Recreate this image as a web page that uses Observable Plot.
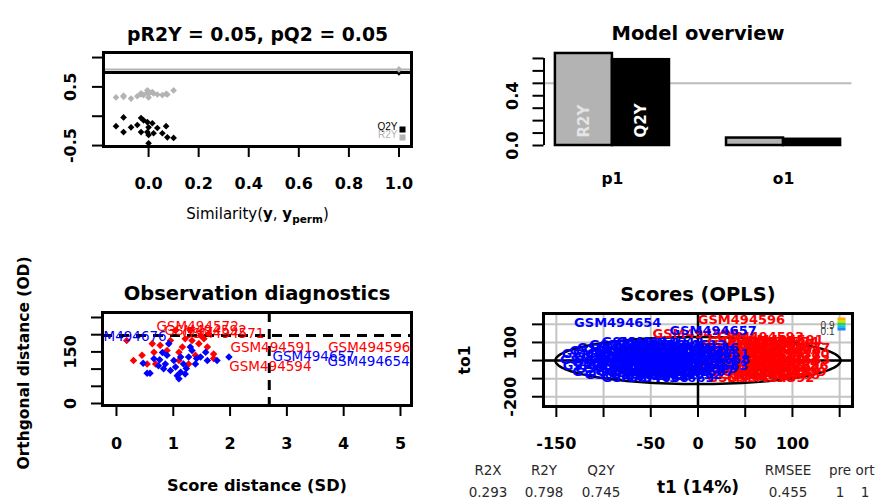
<!DOCTYPE html>
<html><head><meta charset="utf-8">
<script src="https://cdn.jsdelivr.net/npm/d3@7"></script>
<script src="https://cdn.jsdelivr.net/npm/@observablehq/plot@0.6"></script>
<style>
body{margin:0;background:#fff;}
#chart{position:relative;width:876px;height:500px;background:#fff;overflow:hidden;font-family:"DejaVu Sans";}
.mtext{position:absolute;font-family:"DejaVu Sans";font-size:13.5px;color:#2a2a2a;transform:translate(-50%,-50%);white-space:nowrap;line-height:1;}
</style></head><body><div id="chart"></div>
<script>
const FONT = "DejaVu Sans";
const GREY = "#b3b3b3";
const RED = "#ff0000", BLUE = "#0000ff";

// ---------- Panel 1: permutation test ----------
const pR2Y = 0.05, pQ2 = 0.05;
const modelR2Y = 0.798, modelQ2Y = 0.745;
const permSim = [-0.13,-0.10,-0.10,-0.07,-0.045,-0.03,-0.03,-0.02,-0.005,-0.005,0,0,0,0.015,0.02,0.035,0.055,0.07,0.075,0.10];
const permR2Y = [0.32,0.33,0.35,0.30,0.34,0.39,0.37,0.36,0.44,0.40,0.32,0.42,0.38,0.41,0.39,0.37,0.36,0.38,0.37,0.44];
const permQ2Y = [-0.17,-0.02,-0.27,-0.19,-0.15,-0.03,-0.27,-0.07,-0.10,-0.27,-0.19,-0.32,-0.46,-0.12,-0.29,-0.20,-0.29,-0.17,-0.36,-0.37];
const simTicks = [0,0.2,0.4,0.6,0.8,1.0];
const permYTicks = [-0.5,0,0.5,1.0];
const permYLabels = ["-0.5","","0.5",""];
const permLegend = [{label:"Q2Y", color:"black"},{label:"R2Y", color:GREY}];

// ---------- Panel 2: model overview ----------
const components = ["p1","o1"];
const overviewR2Y = [0.74, 0.06];
const overviewQ2Y = [0.69, 0.05];
const overviewTicks = [0,0.1,0.2,0.3,0.4,0.5,0.6,0.7];
const overviewLabels = ["0.0","","","","0.4","","",""];
const overviewLine = 0.5;

// ---------- Panel 3: observation diagnostics ----------
const diagRedSD = [0.30,0.45,0.63,0.66,0.69,0.89,0.95,1.10,1.16,1.21,1.33,1.39,1.45,1.48,1.54,1.62,1.60,1.71,1.10,0.18,0.54,1.71,1.27,0.77,1.30,1.04];
const diagRedOD = [125,140,174,149,115,154,183,149,164,188,183,140,174,198,188,203,164,144,125,183,115,131,115,169,212,212];
const diagBlueSD = [0.47,0.59,0.76,0.74,0.86,0.83,0.92,0.95,1.01,1.04,1.10,1.13,1.18,1.21,1.27,1.30,1.33,1.39,1.48,1.57,1.60,1.77,1.98,0.89,0.66,1.13,0.54,1.07,1.23,1.41,0.81];
const diagBlueOD = [117,88,127,110,115,101,174,96,125,106,72,91,115,86,135,164,154,115,135,149,125,125,135,140,130,135,88,81,102,131,148];
const diagLabels = [
  ["GSM494676","blue",0.16,195],["GSM494572","red",1.43,224],["GSM494592","red",1.57,212],
  ["GSM494571","red",1.88,203],["GSM494591","red",2.73,163],["GSM494596","red",4.45,163],
  ["GSM494594","red",2.71,108],["GSM494657","blue",3.47,137],["GSM494654","blue",4.44,122]
];
const sdLimit = 2.69, odLimit = 198;
const sdTicks = [0,1,2,3,4,5];
const odTicks = [0,50,100,150,200,250];
const odLabels = ["0","","","150","",""];

// ---------- Panel 4: scores (OPLS) ----------
const scoreRed = [
  ["GSM494573",56,105],["GSM494574",82,105],["GSM494575",45,72],["GSM494576",72,72],["GSM494577",94,72],
  ["GSM494578",43,39],["GSM494579",66,39],["GSM494580",93,39],["GSM494581",45,6],["GSM494582",68,6],
  ["GSM494583",94,6],["GSM494584",43,-28],["GSM494585",66,-28],["GSM494586",92,-28],["GSM494587",47,-61],
  ["GSM494588",72,-61],["GSM494589",90,-61],["GSM494590",56,-94],["GSM494592",77,-94],["GSM494593",66,133],
  ["GSM494597",50,88],["GSM494598",77,88],["GSM494599",58,55],["GSM494600",84,55],["GSM494601",56,22],
  ["GSM494602",82,22],["GSM494603",56,-11],["GSM494604",82,-11],["GSM494605",58,-44],["GSM494606",83,-44],
  ["GSM494607",62,-77],["GSM494608",83,-77]
];
const scoreBlue = [
  ["GSM494641",-56,105],["GSM494642",-40,105],["GSM494643",-82,72],["GSM494644",-56,72],["GSM494645",-29,72],
  ["GSM494646",-3,72],["GSM494647",-98,39],["GSM494648",-72,39],["GSM494649",-45,39],["GSM494650",-19,39],
  ["GSM494651",8,39],["GSM494652",-100,6],["GSM494653",-74,6],["GSM494655",-47,6],["GSM494656",-21,6],
  ["GSM494658",9,6],["GSM494659",-97,-28],["GSM494660",-70,-28],["GSM494661",-44,-28],["GSM494662",-17,-28],
  ["GSM494663",7,-28],["GSM494664",-87,-61],["GSM494665",-61,-61],["GSM494666",-34,-61],["GSM494667",-8,-61],
  ["GSM494668",-56,-94],["GSM494669",-29,-94],
  ["GSM494611",-69,88],["GSM494612",-43,88],["GSM494613",-16,88],
  ["GSM494614",-90,55],["GSM494615",-64,55],["GSM494616",-38,55],["GSM494617",-8,55],
  ["GSM494618",-85,22],["GSM494619",-59,22],["GSM494620",-32,22],["GSM494621",-4,22],
  ["GSM494622",-87,-11],["GSM494623",-61,-11],["GSM494624",-34,-11],["GSM494625",-6,-11],
  ["GSM494626",-84,-44],["GSM494627",-58,-44],["GSM494628",-31,-44],["GSM494629",-4,-44],
  ["GSM494630",-74,-77],["GSM494631",-47,-77],["GSM494632",-21,-77]
];
const scoreOutliers = [
  ["GSM494594","red",-2,145],["GSM494657","blue",16,166],["GSM494654","blue",-85,206],
  ["GSM494596","red",46,227],["GSM494591","red",87,116]
];
const ellipseA = 151, ellipseB = 130;
const t1Ticks = [-150,-100,-50,0,50,100,150];
const t1Labels = ["-150","","-50","0","50","100",""];
const to1Ticks = [-200,-100,0,100,200];
const to1Labels = ["-200","","","100",""];
const scaleColors = ["#ffae00","#d0e000","#30d040","#00c8e8","#2a80ff"];
const scaleLabels = ["0.9","0.1"];
const summary = [
  {label:"R2X", value:"0.293", x:488}, {label:"R2Y", value:"0.798", x:544}, {label:"Q2Y", value:"0.745", x:601},
  {label:"RMSEE", value:"0.455", x:788}, {label:"pre", value:"1", x:840}, {label:"ort", value:"1", x:865}
];
const pct = "14%";

const chart = document.getElementById("chart");
function place(svg, left, top){
  svg.style.position = "absolute"; svg.style.left = left + "px"; svg.style.top = top + "px";
  svg.style.overflow = "visible"; svg.style.background = "transparent"; svg.style.maxWidth = "none";
  chart.appendChild(svg);
}
const fmt = (ticks, labels) => d => labels[ticks.indexOf(d)] ?? "";
const tickStyle = {tickSize: 11, strokeWidth: 2, fontSize: 16, fontWeight: "bold", fontFamily: FONT, label: null};

// ===== Panel 1 =====
const perm = permSim.map((s,i) => ({sim: s, r2y: permR2Y[i], q2y: permQ2Y[i]}));
const simLabel = "Similarity(y, yperm)";
const p1 = Plot.plot({
  width: 438, height: 250, marginLeft: 103, marginRight: 27, marginTop: 52, marginBottom: 104,
  x: {domain: [-0.18, 1.05]}, y: {domain: [-0.516, 1.086]},
  style: {fontFamily: FONT},
  marks: [
    Plot.ruleY([modelR2Y], {stroke: GREY, strokeWidth: 2}),
    Plot.ruleY([modelQ2Y], {stroke: "black", strokeWidth: 3}),
    Plot.dot(perm, {x: "sim", y: "r2y", symbol: "diamond2", r: 3, fill: GREY}),
    Plot.dot(perm, {x: "sim", y: "q2y", symbol: "diamond2", r: 3, fill: "black"}),
    Plot.dot([modelQ2Y], {x: 1, y: d => d, symbol: "diamond2", r: 3, fill: "black"}),
    Plot.dot([modelR2Y], {x: 1, y: d => d, symbol: "diamond2", r: 3, fill: GREY}),
    ...permLegend.flatMap((it, i) => [
      Plot.text([it.label], {text: d => d, frameAnchor: "bottom-right", dx: -14, dy: -17 + 8*i, textAnchor: "end", fill: it.color, fontSize: 10, fontFamily: "Liberation Sans"}),
      Plot.dot([it], {frameAnchor: "bottom-right", dx: -9, dy: -17 + 8*i, symbol: "square", r: 3.4, fill: it.color})
    ]),
    Plot.axisX(simTicks, {...tickStyle, tickPadding: 20, tickFormat: d => d.toFixed(1)}),
    Plot.axisY(permYTicks, {...tickStyle, tickRotate: -90, tickPadding: 17, tickFormat: fmt(permYTicks, permYLabels)}),
    Plot.frame({stroke: "black", strokeWidth: 3}),
    Plot.text([`pR2Y = ${pR2Y}, pQ2 = ${pQ2}`], {text: d => d, frameAnchor: "top", dy: -25, fontSize: 18.8, fontWeight: "bold", fontFamily: FONT}),
    Plot.text([simLabel], {text: d => d, frameAnchor: "bottom", dy: 72, fontSize: 15, fontFamily: FONT})
  ]
});
d3.select(p1).selectAll("text").filter(function(){ return this.textContent === simLabel; }).each(function(){
  const t = d3.select(this); t.text("");
  t.append("tspan").text("Similarity(");
  t.append("tspan").attr("font-weight","bold").text("y");
  t.append("tspan").text(", ");
  t.append("tspan").attr("font-weight","bold").text("y");
  t.append("tspan").attr("font-weight","bold").attr("font-size","10.5px").attr("dy","4").text("perm");
  t.append("tspan").attr("dy","-4").text(")");
});
place(p1, 0, 0);

// ===== Panel 2 =====
const bars = components.flatMap((c, i) => [
  {comp: c, series: "R2Y", value: overviewR2Y[i], x1: 1 + 3*i, x2: 2 + 3*i, fill: GREY, tc: "#e4e4e4"},
  {comp: c, series: "Q2Y", value: overviewQ2Y[i], x1: 2 + 3*i, x2: 3 + 3*i, fill: "black", tc: "white"}
]);
const xDom2 = [0.8, 6.2];
const p2 = Plot.plot({
  width: 438, height: 250, marginLeft: 105.5, marginRight: 24.5, marginTop: 49, marginBottom: 105,
  x: {domain: xDom2, axis: null}, y: {domain: [0, 0.772]}, color: {type: "identity"},
  style: {fontFamily: FONT},
  marks: [
    Plot.ruleY([overviewLine], {stroke: "#bdbdbd", strokeWidth: 2}),
    Plot.rect(bars, {x1: "x1", x2: "x2", y1: 0, y2: "value", fill: "fill", stroke: "black", strokeWidth: 2.5}),
    Plot.text(bars.filter(d => d.comp === components[0]), {x: d => (d.x1 + d.x2)/2, y: 0, text: "series", rotate: -90, textAnchor: "start", dy: -8, fill: "tc", fontSize: 15, fontWeight: "bold", fontFamily: FONT}),
    Plot.ruleX([xDom2[0]], {y1: overviewTicks[0], y2: overviewTicks[overviewTicks.length-1], strokeWidth: 2}),
    Plot.axisY(overviewTicks, {...tickStyle, tickRotate: -90, tickPadding: 15, tickFormat: fmt(overviewTicks, overviewLabels)}),
    Plot.text(components, {x: (d, i) => 2 + 3*i, text: d => d, frameAnchor: "bottom", dy: 38, fontSize: 15.5, fontWeight: "bold", fontFamily: FONT}),
    Plot.text(["Model overview"], {text: d => d, frameAnchor: "top", dy: -23, fontSize: 19.5, fontWeight: "bold", fontFamily: FONT})
  ]
});
place(p2, 438, 0);

// ===== Panel 3 =====
const diagPts = [
  ...diagRedSD.map((s, i) => ({sd: s, od: diagRedOD[i], c: RED})),
  ...diagBlueSD.map((s, i) => ({sd: s, od: diagBlueOD[i], c: BLUE}))
];
const diagLab = diagLabels.map(([n, c, s, o]) => ({name: n, c: c === "red" ? RED : BLUE, sd: s, od: o}));
const p3 = Plot.plot({
  width: 438, height: 250, marginLeft: 102, marginRight: 27, marginTop: 62, marginBottom: 95,
  x: {domain: [-0.246, 5.194]}, y: {domain: [-5.8, 264.5]}, color: {type: "identity"},
  style: {fontFamily: FONT},
  marks: [
    Plot.ruleX([sdLimit], {stroke: "black", strokeWidth: 3, strokeDasharray: "10,7"}),
    Plot.ruleY([odLimit], {stroke: "black", strokeWidth: 3, strokeDasharray: "10,7"}),
    Plot.dot(diagPts, {x: "sd", y: "od", fill: "c", symbol: "diamond2", r: 3.4}),
    Plot.text(diagLab, {x: "sd", y: "od", text: "name", fill: "c", fontSize: 13.5, fontFamily: FONT, clip: true}),
    Plot.axisX(sdTicks, {...tickStyle, tickPadding: 21, tickFormat: d => String(d)}),
    Plot.axisY(odTicks, {...tickStyle, tickRotate: -90, tickPadding: 16, tickFormat: fmt(odTicks, odLabels)}),
    Plot.frame({stroke: "black", strokeWidth: 3}),
    Plot.text(["Observation diagnostics"], {text: d => d, frameAnchor: "top", dy: -26, fontSize: 19.5, fontWeight: "bold", fontFamily: FONT}),
    Plot.text(["Score distance (SD)"], {text: d => d, frameAnchor: "bottom", dy: 85, fontSize: 16.2, fontWeight: "bold", fontFamily: FONT}),
    Plot.text(["Orthgonal distance (OD)"], {text: d => d, frameAnchor: "left", textAnchor: "middle", dx: -78, dy: 4, rotate: -90, fontSize: 15.5, fontWeight: "bold", fontFamily: FONT})
  ]
});
place(p3, 0, 250);

// ===== Panel 4 =====
const scoreLab = [
  ...scoreRed.map(([n, t, o]) => ({name: n, t1: t, to1: o, c: RED})),
  ...scoreBlue.map(([n, t, o]) => ({name: n, t1: t, to1: o, c: BLUE})),
  ...scoreOutliers.map(([n, c, t, o]) => ({name: n, t1: t, to1: o, c: c === "red" ? RED : BLUE}))
];
const ellipse = d3.range(0, 361, 3).map(a => ({t1: ellipseA * Math.cos(a * Math.PI / 180), to1: ellipseB * Math.sin(a * Math.PI / 180)}));
const fr4 = {left: 105, right: 414, top: 63, bottom: 156};
const p4 = Plot.plot({
  width: 438, height: 250, marginLeft: fr4.left, marginRight: 438 - fr4.right, marginTop: fr4.top, marginBottom: 250 - fr4.bottom,
  x: {domain: [-163.6, 163.6]}, y: {domain: [-254, 260]}, color: {type: "identity"},
  style: {fontFamily: FONT},
  marks: [
    Plot.gridX(t1Ticks, {stroke: "#c4c4c4", strokeOpacity: 1, strokeWidth: 2}),
    Plot.gridY(to1Ticks, {stroke: "#c4c4c4", strokeOpacity: 1, strokeWidth: 2}),
    Plot.ruleX([0], {stroke: "black", strokeWidth: 2.5}),
    Plot.ruleY([0], {stroke: "black", strokeWidth: 2.5}),
    Plot.line(ellipse, {x: "t1", y: "to1", stroke: "black", strokeWidth: 2.5}),
    Plot.text(scoreLab, {x: "t1", y: "to1", text: "name", fill: "c", fontSize: 13, fontWeight: "bold", fontFamily: FONT, clip: true}),
    ...scaleColors.map((col, i) => Plot.frame({fill: col, stroke: null, insetLeft: 294, insetRight: 7, insetTop: 4 + 2.6*i, insetBottom: 93 - 4 - 2.6*(i+1)})),
    ...scaleLabels.map((s, i) => Plot.text([s], {text: d => d, frameAnchor: "top-right", dx: -18, dy: 8 + 6*i, textAnchor: "end", fontSize: 10, fontFamily: "Liberation Sans", fill: "#333"})),
    Plot.axisX(t1Ticks, {...tickStyle, tickPadding: 20, tickFormat: fmt(t1Ticks, t1Labels)}),
    Plot.axisY(to1Ticks, {...tickStyle, tickRotate: -90, tickPadding: 17, tickFormat: fmt(to1Ticks, to1Labels)}),
    Plot.frame({stroke: "black", strokeWidth: 3}),
    Plot.text(["Scores (OPLS)"], {text: d => d, frameAnchor: "top", dy: -26, fontSize: 19.5, fontWeight: "bold", fontFamily: FONT}),
    Plot.text([`t1 (${pct})`], {text: d => d, frameAnchor: "bottom", dy: 86, fontSize: 17, fontWeight: "bold", fontFamily: FONT}),
    Plot.text(["to1"], {text: d => d, frameAnchor: "left", textAnchor: "middle", dx: -78, rotate: -90, fontSize: 15.5, fontWeight: "bold", fontFamily: FONT})
  ]
});
place(p4, 438, 250);

// summary row (mtext)
summary.forEach(s => {
  const a = document.createElement("div"); a.className = "mtext"; a.textContent = s.label;
  a.style.left = s.x + "px"; a.style.top = "471px"; chart.appendChild(a);
  const b = document.createElement("div"); b.className = "mtext"; b.textContent = s.value;
  b.style.left = s.x + "px"; b.style.top = "493px"; chart.appendChild(b);
});
</script></body></html>
